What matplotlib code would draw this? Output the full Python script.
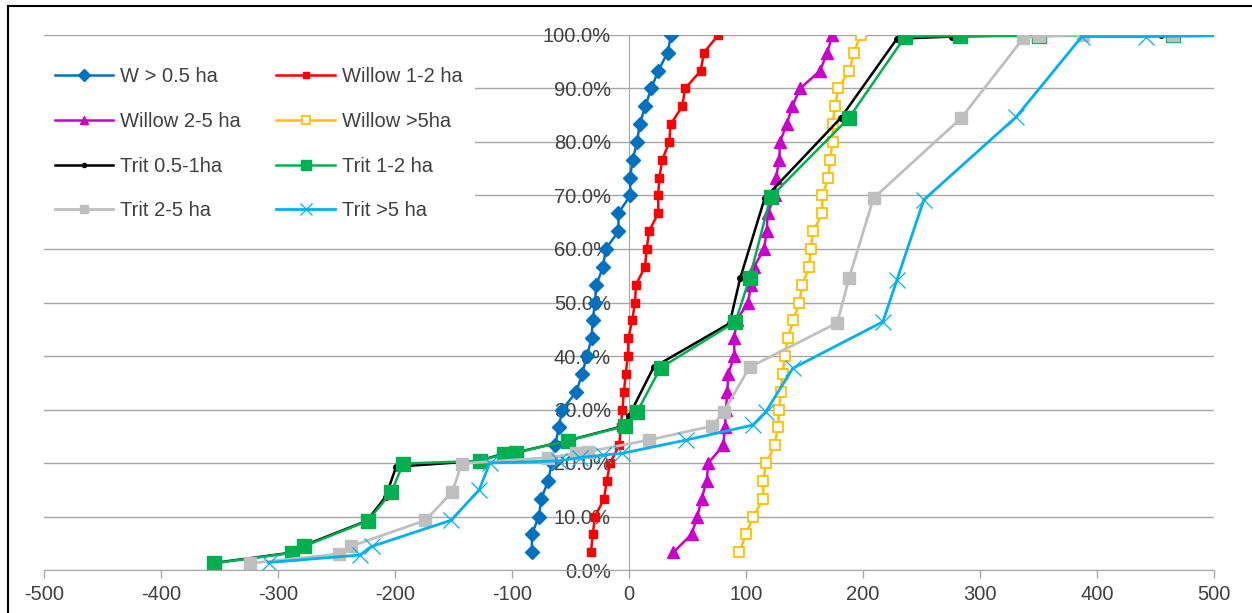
import numpy as np
import matplotlib
matplotlib.use("Agg")
import matplotlib.pyplot as plt
from matplotlib.lines import Line2D

plt.rcParams['font.family'] = ['Liberation Sans', 'DejaVu Sans']

### Data (x value, cumulative %) ###
willow_y = [3.3, 6.7, 10.0, 13.3, 16.7, 20.0, 23.3, 26.7, 30.0, 33.3,
            36.7, 40.0, 43.3, 46.7, 50.0, 53.3, 56.7, 60.0, 63.3, 66.7,
            70.0, 73.3, 76.7, 80.0, 83.3, 86.7, 90.0, 93.3, 96.7, 100.0]

w05_x = [-83, -83, -77, -75, -69, -66, -63, -60, -57, -45,
         -40, -36, -32, -31, -29, -28, -22, -20, -9, -9,
         1, 1, 3, 7, 9, 14, 19, 25, 33, 36]
w12_x = [-32.5, -31, -29, -21.4, -19, -16.2, -8.3, -7, -5.7, -4.3,
         -2.8, -1, -0.5, 2.8, 5.1, 6, 13.7, 15.1, 17.1, 25,
         25, 25.9, 28.5, 34.4, 35.6, 45.6, 47.9, 61.3, 64, 76.3]
w25_x = [37.9, 53.6, 58.4, 62.1, 66.4, 67.8, 80.6, 82, 82.9, 84,
         84.9, 90, 90, 92, 102, 104, 107, 115.4, 117.7, 118.5,
         124.8, 125.6, 128.5, 129, 134.8, 139.6, 146.2, 163.2, 169.5, 173.8]
w5_x = [94.3, 100, 106.3, 114.8, 114.8, 117.1, 124.8, 127.1, 128.5, 129.6,
        131.3, 133.3, 135.6, 140.5, 145.6, 148.1, 154.1, 155.3, 157.5, 165.2,
        165.2, 170.4, 171.8, 174.1, 174.1, 176, 178.9, 188.3, 192.3, 198]

t051_x = [-357, -290, -280, -224, -208, -199, -128, -108, -98, -52, -5,
          0, 21, 86, 95, 116, 181, 229, 276, 346, 455]
t051_y = [1.25, 3.2, 4.4, 9.2, 13.7, 19.3, 20.4, 21.7, 21.9, 24.2, 26.9,
          28.8, 37.9, 46.1, 54.5, 69.5, 84.5, 99.3, 99.7, 100, 100]

t12_x = [-355, -288, -278, -223, -203, -193, -127, -107, -97, -52, -3,
         7, 27, 91, 103, 121, 188, 236, 283, 350, 465]
t12_y = [1.25, 3.2, 4.4, 9.2, 14.6, 19.9, 20.4, 21.7, 21.9, 24.2, 26.9,
         29.6, 37.8, 46.4, 54.5, 69.7, 84.5, 99.7, 99.8, 99.8, 100]

t25_x = [-324, -248, -238, -174, -151, -143, -69, -45, -35, 17, 71,
         81, 103, 178, 188, 209, 284, 337, 350, 388, 465]
t25_y = [1.25, 3.0, 4.4, 9.3, 14.6, 19.9, 21.0, 21.8, 22.1, 24.3, 26.9,
         29.6, 37.9, 46.2, 54.5, 69.5, 84.5, 99.4, 99.8, 100, 100]

t5_x = [-308, -230, -220, -152, -128, -119, -60, -42, -22, -6, 49,
        106, 117, 140, 217, 229, 252, 331, 387, 442, 560]
t5_y = [1.4, 2.8, 4.4, 9.3, 15.0, 20.0, 20.4, 21.0, 21.5, 21.8, 24.3,
        27.1, 29.6, 37.7, 46.4, 54.2, 69.2, 84.7, 99.7, 99.7, 100]

x_ticks = [-500, -400, -300, -200, -100, 0, 100, 200, 300, 400, 500]
y_ticks = [0, 10, 20, 30, 40, 50, 60, 70, 80, 90, 100]

### Figure ###
W, H = 1252, 613
fig = plt.figure(figsize=(W / 100, H / 100), dpi=100)
ax = fig.add_axes([44 / W, 1 - 570 / H, 1170 / W, 535 / H])

grid_col = '#A6A6A6'
text_col = '#404040'

l_w05, = ax.plot(w05_x, willow_y, color='#0070C0', lw=1.8, marker='D', ms=7.5, label='W > 0.5 ha')
l_w12, = ax.plot(w12_x, willow_y, color='#FF0000', lw=1.8, marker='s', ms=6, label='Willow 1-2 ha')
l_w25, = ax.plot(w25_x, willow_y, color='#CC00CC', lw=1.8, marker='^', ms=8, label='Willow 2-5 ha')
l_w5, = ax.plot(w5_x, willow_y, color='#FFC000', lw=1.8, marker='s', ms=7, mfc='white',
                mec='#FFC000', mew=1.3, label='Willow >5ha')
l_t051, = ax.plot(t051_x, t051_y, color='black', lw=1.8, marker='o', ms=4, label='Trit 0.5-1ha')
l_t12, = ax.plot(t12_x, t12_y, color='#00B050', lw=1.8, marker='s', ms=10, label='Trit 1-2 ha')
l_t25, = ax.plot(t25_x, t25_y, color='#BFBFBF', lw=2, marker='s', ms=8.5, label='Trit 2-5 ha')
l_t5, = ax.plot(t5_x, t5_y, color='#00B0F0', lw=2, marker='x', ms=11, mew=0.9, label='Trit >5 ha')

### Axes styling ###
ax.set_xlim(-500, 500)
ax.set_ylim(0, 100)
ax.set_xticks(x_ticks)
ax.set_xticklabels([str(v) for v in x_ticks])
ax.set_yticks(y_ticks)
ax.set_yticklabels([f"{v:.1f}%" for v in y_ticks])

ax.spines['top'].set_visible(False)
ax.spines['right'].set_visible(False)
ax.spines['left'].set_position(('data', 0))
ax.spines['left'].set_color(grid_col)
ax.spines['bottom'].set_color(grid_col)
ax.spines['left'].set_zorder(1)

ax.yaxis.grid(True, color=grid_col, lw=1)
ax.set_axisbelow(True)
ax.tick_params(axis='x', direction='out', length=6, width=1, color=grid_col,
               labelsize=14.5, labelcolor=text_col, pad=5)
ax.tick_params(axis='y', length=0, labelsize=14.5, labelcolor=text_col, pad=13)

### Legend ###
handles = [l_w05, l_w25, l_t051, l_t25, l_w12, l_w5, l_t12, l_t5]
leg = ax.legend(handles=handles, labels=[h.get_label() for h in handles],
                ncol=2, loc='upper left', bbox_to_anchor=(-0.001, 0.962),
                borderaxespad=0, fontsize=14.5, handlelength=2.9, handletextpad=0.35,
                columnspacing=1.75, labelspacing=1.27, markerscale=0.75,
                frameon=True, fancybox=False, framealpha=1, facecolor='white',
                edgecolor='none', borderpad=0.6)
for t in leg.get_texts():
    t.set_color(text_col)

### Outer frame (left and top edges visible) ###
fig.add_artist(Line2D([8 / W, 8 / W], [0, 1 - 6 / H], transform=fig.transFigure, color='black', lw=1.5))
fig.add_artist(Line2D([8 / W, 1], [1 - 6 / H, 1 - 6 / H], transform=fig.transFigure, color='black', lw=1.5))

fig.savefig("out.png", dpi=100)
